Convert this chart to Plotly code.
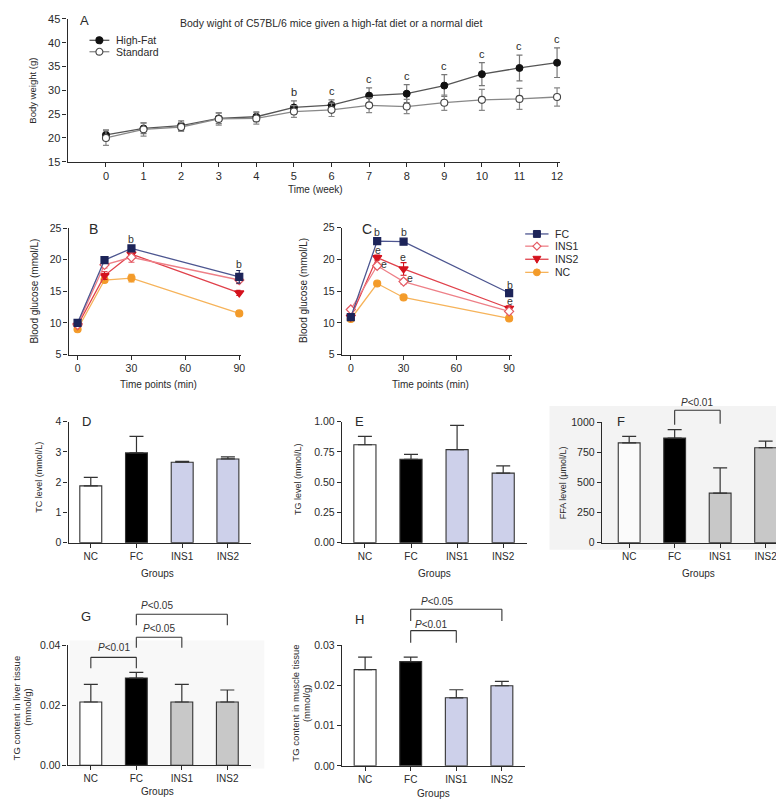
import plotly.graph_objects as go

W, H = 784, 799
SANS = "'Liberation Sans', Arial, Helvetica, sans-serif"
INK = "#2a2a2a"

# ---------------- Panel A: body weight ----------------
weeks = list(range(13))
hf_mean = [20.65, 22.0, 22.6, 24.1, 24.45, 26.4, 26.9, 28.9, 29.3, 31.0, 33.4, 34.7, 35.8]
hf_err = [1.05, 1.1, 1.0, 1.1, 1.05, 1.4, 1.1, 1.6, 1.9, 2.3, 2.4, 2.7, 3.1]
std_mean = [20.0, 21.8, 22.3, 24.0, 24.1, 25.55, 25.9, 26.85, 26.6, 27.4, 28.0, 28.2, 28.6]
std_err = [1.55, 1.4, 0.95, 1.3, 1.2, 1.25, 1.4, 1.55, 1.5, 1.6, 2.2, 2.2, 1.9]
a_letters = ["", "", "", "", "", "b", "c", "c", "c", "c", "c", "c", "c"]

# ---------------- Panels B, C: glucose tolerance ----------------
time_min = [0, 15, 30, 90]
ogtt_groups = ["FC", "INS1", "INS2", "NC"]
b_fc = [10.0, 19.95, 21.8, 17.3]
b_ins1 = [9.7, 19.2, 20.4, 16.8]
b_ins2 = [9.6, 17.5, 20.9, 14.75]
b_nc = [9.0, 16.8, 17.1, 11.5]
b_fc_err = [0.3, 0.3, 0.3, 1.0]
b_ins1_err = [0.3, 0.5, 0.8, 0.6]
b_ins2_err = [0.3, 0.6, 0.5, 0.4]
b_nc_err = [0.2, 0.3, 0.6, 0.4]
b_letters = [(30, 23.3, "b"), (90, 19.4, "b")]

c_fc = [10.9, 22.9, 22.8, 14.7]
c_ins1 = [12.1, 19.0, 16.5, 11.8]
c_ins2 = [10.9, 20.3, 18.5, 12.3]
c_nc = [10.6, 16.2, 14.0, 10.7]
c_fc_err = [0.2, 0.2, 0.2, 0.3]
c_ins1_err = [0.3, 0.4, 0.4, 0.4]
c_ins2_err = [0.3, 0.4, 1.0, 0.4]
c_nc_err = [0.2, 0.3, 0.2, 0.2]
c_letters = [(15, 24.4, "b"), (30, 24.4, "b"), (15.4, 21.5, "e"), (18.6, 19.3, "e"),
             (29.8, 20.4, "e"), (33.6, 17.0, "e"), (90.3, 16.0, "b"), (90.3, 13.4, "e")]

# ---------------- Panels D-H: bar charts ----------------
groups = ["NC", "FC", "INS1", "INS2"]
tc_mean = [1.88, 2.97, 2.66, 2.77]
tc_err = [0.28, 0.55, 0.03, 0.07]
tg_mean = [0.81, 0.69, 0.77, 0.575]
tg_err = [0.07, 0.04, 0.20, 0.06]
ffa_mean = [830, 870, 412, 790]
ffa_err = [55, 70, 210, 55]
liver_mean = [0.0211, 0.0291, 0.0211, 0.0211]
liver_err = [0.0059, 0.0019, 0.0059, 0.0040]
muscle_mean = [0.0239, 0.0259, 0.0169, 0.0199]
muscle_err = [0.0031, 0.0011, 0.0020, 0.0011]

# significance brackets: (from, to, bar level, left end, right end, label, label x, label y)
f_brackets = [("FC", "INS1", 1102, 981, 989, "P<0.01", 1.5, 1165)]
g_brackets = [("NC", "FC", 0.0360, 0.0324, 0.0324, "P<0.01", 0.5, 0.0392),
              ("FC", "INS1", 0.0427, 0.0392, 0.0392, "P<0.05", 1.5, 0.0455),
              ("FC", "INS2", 0.0504, 0.0467, 0.0467, "P<0.05", 1.46, 0.0532)]
h_brackets = [("FC", "INS1", 0.0336, 0.0306, 0.0306, "P<0.01", 1.45, 0.0352),
              ("FC", "INS2", 0.0389, 0.0360, 0.0360, "P<0.05", 1.58, 0.0408)]

WHITE, BLACK, LAV, GREY = "#ffffff", "#000000", "#cdd0ea", "#c8c8c8"

# ---------------- layout helpers ----------------
def fx(px):
    return px / W

def fy(py):
    return 1 - py / H

AX = {
    1: dict(box=(60, 556, 5, 150), xr=[-1.02, 12.09], yr=[15, 45]),
    2: dict(box=(61, 234, 217.5, 345.7), xr=[-4.98, 90.7], yr=[5, 25]),
    3: dict(box=(336, 507, 217.0, 345.7), xr=[-5.08, 91.5], yr=[5, 25]),
    4: dict(box=(61, 245, 414, 536.7), xr=[-0.485, 3.515], yr=[0, 4]),
    5: dict(box=(336, 522.5, 414, 536.7), xr=[-0.5, 3.52], yr=[0, 1]),
    6: dict(box=(597.7, 784, 414.7, 536.7), xr=[-0.6, 3.47], yr=[0, 1000]),
    7: dict(box=(60, 245, 641, 762.7), xr=[-0.51, 3.53], yr=[0, 0.04]),
    8: dict(box=(336, 520, 640.7, 763.3), xr=[-0.51, 3.5], yr=[0, 0.03]),
}

def xname(n):
    return "x" if n == 1 else f"x{n}"

def yname(n):
    return "y" if n == 1 else f"y{n}"

def yval_to_paper(n, v):
    l, r, t, b = AX[n]["box"]
    y0, y1 = AX[n]["yr"]
    frac = (v - y0) / (y1 - y0)
    return fy(b) + frac * (fy(t) - fy(b))

fig = go.Figure()

# ---------------- Panel A traces ----------------
fig.add_trace(go.Scatter(
    x=weeks, y=hf_mean, name="High-Fat", mode="lines+markers",
    line=dict(color="#555555", width=1.3),
    marker=dict(symbol="circle", size=7, color="#111111", line=dict(color="#111111", width=1)),
    error_y=dict(type="data", array=hf_err, color="#777777", thickness=1.2, width=3),
    xaxis="x", yaxis="y", cliponaxis=False, showlegend=False))
fig.add_trace(go.Scatter(
    x=weeks, y=std_mean, name="Standard", mode="lines+markers",
    line=dict(color="#888888", width=1.3),
    marker=dict(symbol="circle", size=7, color="#ffffff", line=dict(color="#444444", width=1.1)),
    error_y=dict(type="data", array=std_err, color="#888888", thickness=1.2, width=3),
    xaxis="x", yaxis="y", cliponaxis=False, showlegend=False))

# ---------------- Panels B, C traces ----------------
style = {
    "FC": dict(line="#4d5690", mk="#1d2459", sym="square", fill="#1d2459"),
    "INS1": dict(line="#ee8088", mk="#e45a64", sym="diamond", fill="#ffffff"),
    "INS2": dict(line="#e0414b", mk="#d4121d", sym="triangle-down", fill="#d4121d"),
    "NC": dict(line="#f6b35a", mk="#f39b2a", sym="circle", fill="#f39b2a"),
}
series_b = {"NC": (b_nc, b_nc_err), "INS2": (b_ins2, b_ins2_err),
            "INS1": (b_ins1, b_ins1_err), "FC": (b_fc, b_fc_err)}
series_c = {"NC": (c_nc, c_nc_err), "INS2": (c_ins2, c_ins2_err),
            "INS1": (c_ins1, c_ins1_err), "FC": (c_fc, c_fc_err)}
for n, series in ((2, series_b), (3, series_c)):
    for g, (vals, errs) in series.items():
        s = style[g]
        fig.add_trace(go.Scatter(
            x=time_min, y=vals, name=g, mode="lines+markers",
            line=dict(color=s["line"], width=1.3),
            marker=dict(symbol=s["sym"], size=7 if s["sym"] != "triangle-down" else 8,
                        color=s["fill"], line=dict(color=s["mk"], width=1.2)),
            error_y=dict(type="data", array=errs, color=s["mk"], thickness=1.1, width=3),
            xaxis=xname(n), yaxis=yname(n), cliponaxis=False, showlegend=False))

# ---------------- Bar panels ----------------
bar_panels = [
    (4, tc_mean, tc_err, [WHITE, BLACK, LAV, LAV]),
    (5, tg_mean, tg_err, [WHITE, BLACK, LAV, LAV]),
    (6, ffa_mean, ffa_err, ["#fbfbfb", BLACK, GREY, GREY]),
    (7, liver_mean, liver_err, [WHITE, BLACK, GREY, GREY]),
    (8, muscle_mean, muscle_err, [WHITE, BLACK, LAV, LAV]),
]
xpos = list(range(len(groups)))
for n, vals, errs, cols in bar_panels:
    fig.add_trace(go.Bar(
        x=xpos, y=vals, width=0.48,
        marker=dict(color=cols, line=dict(color="#333333", width=1.1)),
        error_y=dict(type="data", symmetric=False, array=errs, arrayminus=[0] * len(vals),
                     color="#333333", thickness=1.2, width=7),
        xaxis=xname(n), yaxis=yname(n), showlegend=False, cliponaxis=False))

# ---------------- axes ----------------
layout_axes = {}
for n, spec in AX.items():
    l, r, t, b = spec["box"]
    common = dict(showline=True, linecolor=INK, linewidth=1.3, ticks="outside", ticklen=4,
                  tickwidth=1.2, tickcolor=INK, showgrid=False, zeroline=False,
                  tickfont=dict(family=SANS, size=10.5, color=INK), fixedrange=True)
    xa = dict(common, domain=[fx(l), fx(r)], range=spec["xr"], anchor=yname(n))
    ya = dict(common, domain=[fy(b), fy(t)], range=spec["yr"], anchor=xname(n))
    if n == 1:
        xa.update(tickvals=weeks, tickfont=dict(family=SANS, size=11, color=INK))
        ya.update(tickvals=[15, 20, 25, 30, 35, 40, 45], tickfont=dict(family=SANS, size=11, color=INK))
    elif n in (2, 3):
        xa.update(tickvals=[0, 30, 60, 90])
        ya.update(tickvals=[5, 10, 15, 20, 25])
    else:
        xa.update(tickvals=xpos, ticktext=groups, tickfont=dict(family=SANS, size=10, color=INK))
        if n == 4:
            ya.update(tickvals=[0, 1, 2, 3, 4])
        elif n == 5:
            ya.update(tickvals=[0, 0.25, 0.5, 0.75, 1.0], tickformat=".2f")
        elif n == 6:
            ya.update(tickvals=[0, 250, 500, 750, 1000])
        elif n == 7:
            ya.update(tickvals=[0, 0.02, 0.04], tickformat=".2f")
        elif n == 8:
            ya.update(tickvals=[0, 0.01, 0.02, 0.03], tickformat=".2f")
    layout_axes["xaxis" if n == 1 else f"xaxis{n}"] = xa
    layout_axes["yaxis" if n == 1 else f"yaxis{n}"] = ya

annotations = []
shapes = []

def text(px, py, s, size=10, anchor="center", angle=0, color=INK):
    annotations.append(dict(x=fx(px), y=fy(py), xref="paper", yref="paper", text=s,
                            showarrow=False, xanchor=anchor, yanchor="middle", textangle=angle,
                            font=dict(family=SANS, size=size, color=color)))

# backgrounds of pasted panels
shapes.append(dict(type="rect", xref="paper", yref="paper", x0=fx(545), x1=1, y0=fy(544), y1=fy(398),
                   fillcolor="#f3f3f3", line=dict(width=0), layer="below"))
shapes.append(dict(type="rect", xref="paper", yref="paper", x0=fx(62), x1=fx(258), y0=fy(766), y1=fy(636),
                   fillcolor="#f8f8f8", line=dict(width=0), layer="below"))

# Panel A texts
text(325, 9, "Body wight of C57BL/6 mice given a high-fat diet or a normal diet", size=10.5)
text(77, 7, "A", size=13, anchor="center")
text(309, 178, "Time (week)", size=10)
text(25, 78, "Body weight (g)", size=9.5, angle=-90)
for w, v, e, lt in zip(weeks, hf_mean, hf_err, a_letters):
    if lt:
        annotations.append(dict(x=w, y=v + e, xref="x", yref="y", text=lt, showarrow=False,
                                yanchor="bottom", yshift=1, font=dict(family=SANS, size=11, color=INK)))

# Panel A legend
for py, name, fill, lc, edge in ((26.7, "High-Fat", "#111111", "#555555", "#111111"),
                                 (38.3, "Standard", "#ffffff", "#888888", "#444444")):
    shapes.append(dict(type="line", xref="paper", yref="paper", x0=fx(82), x1=fx(102), y0=fy(py), y1=fy(py),
                       line=dict(color=lc, width=1.3)))
    shapes.append(dict(type="circle", xref="paper", yref="paper", x0=fx(88.5), x1=fx(95.5),
                       y0=fy(py + 3.5), y1=fy(py - 3.5), fillcolor=fill, line=dict(color=edge, width=1.1)))
    text(107, py, name, size=10.5, anchor="left")

# Panels B, C texts
text(86, 218, "B", size=14)
text(361, 218, "C", size=14)
text(151, 376, "Time points (min)", size=10)
text(425, 376, "Time points (min)", size=10)
text(27, 281, "Blood glucose (mmol/L)", size=10, angle=-90)
text(298, 281, "Blood glucose (mmol/L)", size=10, angle=-90)
for n, letters in ((2, b_letters), (3, c_letters)):
    for xv, yv, lt in letters:
        annotations.append(dict(x=xv, y=yv, xref=xname(n), yref=yname(n), text=lt, showarrow=False,
                                yanchor="middle", font=dict(family=SANS, size=10.5, color="#333333")))

# Panel C legend
for py, g in zip((223.3, 235.7, 249, 262.3), ogtt_groups):
    s = style[g]
    shapes.append(dict(type="line", xref="paper", yref="paper", x0=fx(520.5), x1=fx(544), y0=fy(py), y1=fy(py),
                       line=dict(color=s["line"], width=1.3)))
    cx = 532.3
    if s["sym"] == "square":
        shapes.append(dict(type="rect", xref="paper", yref="paper", x0=fx(cx - 3.5), x1=fx(cx + 3.5),
                           y0=fy(py + 3.5), y1=fy(py - 3.5), fillcolor=s["fill"], line=dict(color=s["mk"], width=1)))
    elif s["sym"] == "circle":
        shapes.append(dict(type="circle", xref="paper", yref="paper", x0=fx(cx - 3.5), x1=fx(cx + 3.5),
                           y0=fy(py + 3.5), y1=fy(py - 3.5), fillcolor=s["fill"], line=dict(color=s["mk"], width=1)))
    elif s["sym"] == "diamond":
        path = (f"M {fx(cx)},{fy(py - 4)} L {fx(cx + 4)},{fy(py)} L {fx(cx)},{fy(py + 4)} "
                f"L {fx(cx - 4)},{fy(py)} Z")
        shapes.append(dict(type="path", xref="paper", yref="paper", path=path, fillcolor=s["fill"],
                           line=dict(color=s["mk"], width=1.2)))
    else:
        path = (f"M {fx(cx - 4)},{fy(py - 3)} L {fx(cx + 4)},{fy(py - 3)} L {fx(cx)},{fy(py + 4)} Z")
        shapes.append(dict(type="path", xref="paper", yref="paper", path=path, fillcolor=s["fill"],
                           line=dict(color=s["mk"], width=1)))
    text(548, py, g, size=10.5, anchor="left")

# Bar panel texts
text(79, 414, "D", size=13)
text(354, 414, "E", size=13)
text(617, 414, "F", size=13)
text(79, 612, "G", size=13)
text(354, 615, "H", size=13)
text(31, 470, "TC level (mmol/L)", size=9, angle=-90)
text(292, 472, "TG level (mmol/L)", size=9, angle=-90)
text(558, 476, "FFA level (\u03bcmol/L)", size=9, angle=-90)
text(8, 704, "TG content in liver tissue", size=9.5, angle=-90)
text(19.5, 704, "(mmol/g)", size=9.5, angle=-90)
text(289, 700, "TG content in muscle tissue", size=9.5, angle=-90)
text(300.5, 700, "(mmol/g)", size=9.5, angle=-90)
text(150, 568, "Groups", size=10)
text(429, 568, "Groups", size=10)
text(695, 568, "Groups", size=10)
text(150, 789, "Groups", size=10)
text(428, 791, "Groups", size=10)

# significance brackets
for n, brs in ((6, f_brackets), (7, g_brackets), (8, h_brackets)):
    for a, b, top, le, re, lab, lx, ly in brs:
        xa, xb = groups.index(a), groups.index(b)
        pts = [(xa, le), (xa, top), (xb, top), (xb, re)]
        for (x0, y0), (x1, y1) in zip(pts[:-1], pts[1:]):
            shapes.append(dict(type="line", xref=xname(n), yref="paper", x0=x0, x1=x1,
                               y0=yval_to_paper(n, y0), y1=yval_to_paper(n, y1),
                               line=dict(color="#333333", width=1.1)))
        annotations.append(dict(x=lx, y=yval_to_paper(n, ly), xref=xname(n), yref="paper",
                                text="<i>P</i>&lt;" + lab[2:], showarrow=False, yanchor="middle",
                                font=dict(family=SANS, size=10, color="#333333")))

fig.update_layout(
    width=W, height=H, margin=dict(l=0, r=0, t=0, b=0),
    paper_bgcolor="white", plot_bgcolor="rgba(0,0,0,0)",
    showlegend=False, bargap=0.5,
    annotations=annotations, shapes=shapes,
    font=dict(family=SANS, color=INK),
    **layout_axes)

fig.write_html("out.html")
